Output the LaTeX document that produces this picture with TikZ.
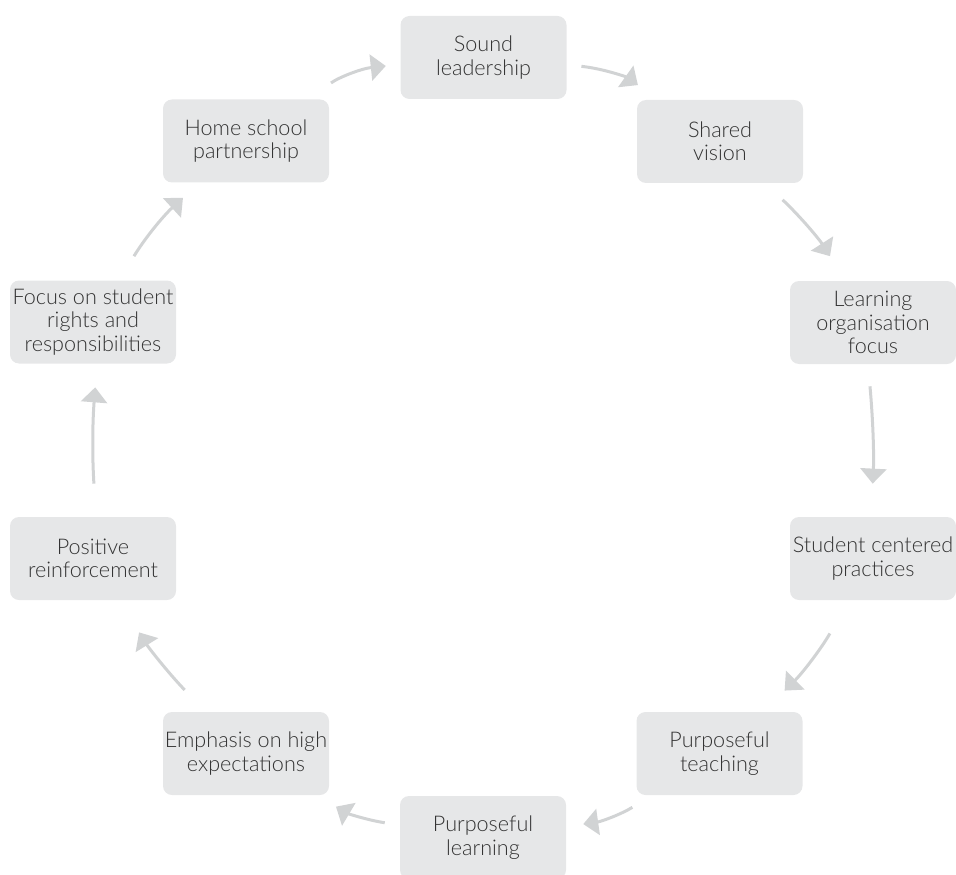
\documentclass[tikz,border=0pt]{standalone}
\usepackage{fontspec}
\setmainfont{Lato Light}
\usetikzlibrary{arrows.meta}
\definecolor{cajagris}{HTML}{E6E7E8}
\definecolor{flechagris}{HTML}{D1D3D4}
\definecolor{textogris}{HTML}{333333}
\tikzset{
	caja/.style={fill=cajagris, rounded corners=4.5pt, minimum width=83pt, minimum height=41.5pt,
		inner sep=0pt, align=center, text=textogris, font=\fontsize{10.8}{11.7}\selectfont},
	flecha/.style={draw=flechagris, line width=1.5pt, -{Triangle[width=13pt,length=7.5pt]}}
}
\begin{document}
\begin{tikzpicture}[x=0.5pt, y=0.5pt]
	\useasboundingbox (0,0) rectangle (956,874);
	\clip (0,0) rectangle (956,874); % la caja de abajo queda cortada
	\node[caja] (sound) at (483.5, 816.5) {Sound\\leadership};
	\node[caja] (shared) at (720, 732.5) {Shared\\vision};
	\node[caja] (learnorg) at (873, 551.5) {Learning\\organisation\\focus};
	\node[caja] (studcent) at (873, 315.5) {Student centered\\practices};
	\node[caja] (pteach) at (719.5, 120.5) {Purposeful\\teaching};
	\node[caja] (plearn) at (483, 36.5) {Purposeful\\learning};
	\node[caja] (emphasis) at (246, 120.5) {Emphasis on high\\expectations};
	\node[caja] (positive) at (93, 315.5) {Positive\\reinforcement};
	\node[caja] (rights) at (93, 552) {Focus on student\\rights and\\responsibilities};
	\node[caja] (homesch) at (246, 733) {Home school\\partnership};
	% ciclo de flechas
	\draw[flecha, shorten <=14pt, shorten >=7.2pt] (homesch) to[bend left=14.6] (sound);
	\draw[flecha, shorten <=7.3pt, shorten >=12.5pt] (sound) to[bend left=14.6] (shared);
	\draw[flecha, shorten <=11.9pt, shorten >=14.5pt] (shared) to[bend left=7] (learnorg);
	\draw[flecha, shorten <=11pt, shorten >=16.5pt] ([xshift=-2.5pt]learnorg.south) to[bend left=4] ([xshift=-1pt]studcent.north);
	\draw[flecha, shorten <=19pt, shorten >=15pt] (studcent) to[bend left=8] (pteach);
	\draw[flecha, shorten <=11.2pt, shorten >=8.5pt] (pteach) to[bend left=12] (plearn);
	\draw[flecha, shorten <=7.5pt, shorten >=11pt] (plearn) to[bend left=11] (emphasis);
	\draw[flecha, shorten <=15pt, shorten >=18.8pt] (emphasis) to[bend left=6] (positive);
	\draw[flecha, shorten <=16.5pt, shorten >=11.75pt] ([xshift=1.5pt]positive.north) to[bend left=4] ([xshift=2pt]rights.south);
	\draw[flecha, shorten <=14pt, shorten >=11pt] (rights) to[bend left=8] (homesch);
\end{tikzpicture}
\end{document}
